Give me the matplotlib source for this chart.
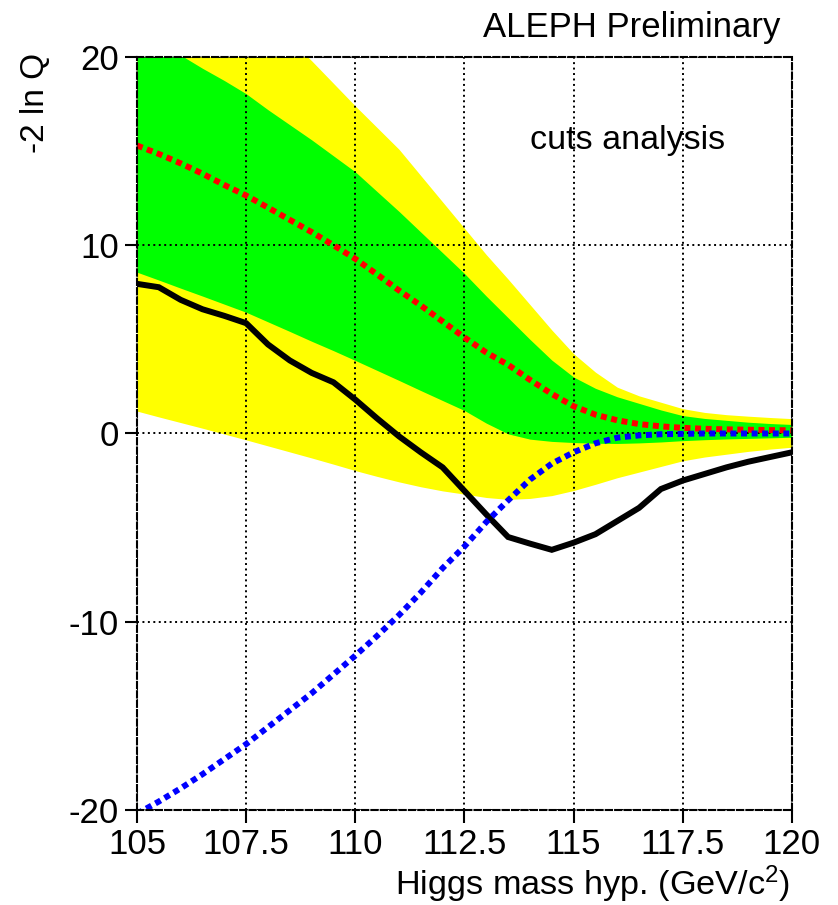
import matplotlib
matplotlib.use("Agg")
import matplotlib.pyplot as plt

plt.rcParams["font.family"] = ["Liberation Sans", "DejaVu Sans"]
plt.rcParams["mathtext.fontset"] = "custom"
plt.rcParams["mathtext.rm"] = "Liberation Sans"
plt.rcParams["mathtext.it"] = "Liberation Sans"
plt.rcParams["axes.unicode_minus"] = False

# Higgs mass hypotheses (GeV/c^2)
mass = [105, 105.5, 106, 106.5, 107, 107.5, 108, 108.5, 109, 109.5,
        110, 110.5, 111, 111.5, 112, 112.5, 113, 113.5, 114, 114.5,
        115, 115.5, 116, 116.5, 117, 117.5, 118, 118.5, 119, 119.5, 120]

# observed -2 ln Q
observed = [7.95, 7.77, 7.1, 6.6, 6.25, 5.86, 4.73, 3.88, 3.22, 2.72,
            1.8, 0.8, -0.15, -1.0, -1.8, -3.05, -4.3, -5.5, -5.85, -6.18,
            -5.8, -5.35, -4.65, -3.95, -2.95, -2.5, -2.15, -1.8, -1.5, -1.25, -1.0]

# expected for signal + background
exp_sb = [15.3, 14.85, 14.35, 13.8, 13.2, 12.64, 12.0, 11.35, 10.7, 10.0,
          9.28, 8.45, 7.6, 6.8, 5.95, 5.1, 4.3, 3.65, 2.85, 2.1,
          1.45, 1.0, 0.7, 0.5, 0.38, 0.3, 0.25, 0.22, 0.2, 0.18, 0.17]

# expected for background only
exp_b = [-20.2, -19.55, -18.85, -18.1, -17.3, -16.5, -15.6, -14.7, -13.8, -12.8,
         -11.8, -10.75, -9.65, -8.45, -7.15, -6.0, -4.7, -3.55, -2.45, -1.6,
         -1.0, -0.52, -0.22, -0.1, -0.04, -0.02, 0.0, 0.0, 0.0, 0.0, 0.0]

# 1 sigma band around signal + background
sig1_hi = [21.5, 20.8, 20.1, 19.4, 18.75, 18.05, 17.2, 16.4, 15.6, 14.75,
           13.9, 12.85, 11.8, 10.7, 9.6, 8.5, 7.3, 6.15, 5.0, 3.9,
           3.0, 2.4, 1.95, 1.6, 1.25, 0.95, 0.8, 0.7, 0.6, 0.53, 0.48]
sig1_lo = [8.57, 8.15, 7.72, 7.3, 6.87, 6.44, 5.93, 5.42, 4.9, 4.4,
           3.88, 3.35, 2.82, 2.28, 1.75, 1.22, 0.55, -0.02, -0.3, -0.42,
           -0.48, -0.52, -0.53, -0.5, -0.45, -0.38, -0.33, -0.29, -0.26, -0.23, -0.2]

# 2 sigma band
sig2_hi = [27.0, 26.2, 25.4, 24.6, 23.8, 22.9, 21.9, 20.9, 19.8, 18.6,
           17.4, 16.25, 15.1, 13.7, 12.3, 10.9, 9.5, 8.2, 6.85, 5.5,
           4.24, 3.26, 2.46, 2.0, 1.66, 1.32, 1.12, 1.0, 0.92, 0.85, 0.79]
sig2_lo = [1.19, 0.88, 0.58, 0.28, -0.03, -0.34, -0.66, -0.98, -1.3, -1.63,
           -1.97, -2.28, -2.57, -2.83, -3.05, -3.22, -3.4, -3.5, -3.45, -3.3,
           -3.03, -2.7, -2.35, -2.05, -1.75, -1.45, -1.25, -1.1, -0.95, -0.83, -0.73]

xticks = [105, 107.5, 110, 112.5, 115, 117.5, 120]
xticklabels = ["105", "107.5", "110", "112.5", "115", "117.5", "120"]
yticks = [-20, -10, 0, 10, 20]
yticklabels = ["-20", "-10", "0", "10", "20"]

fig = plt.figure(figsize=(8.38, 9.05), dpi=100)
ax = fig.add_axes([0.1635, 0.105, 0.7815, 0.832])

ax.fill_between(mass, sig2_lo, sig2_hi, color="#ffff00", lw=0, zorder=1)
ax.fill_between(mass, sig1_lo, sig1_hi, color="#00ff00", lw=0, zorder=1.1)

ax.set_axisbelow(False)
ax.grid(True, color="black", linestyle=(0, (1, 1.8)), linewidth=1.4)

ax.plot(mass, observed, color="black", lw=4.3, solid_joinstyle="miter", zorder=3)
ax.plot(mass, exp_sb, color="#ff0000", lw=4.3, linestyle=(0, (1.0, 0.77)),
        dash_capstyle="butt", zorder=3)
ax.plot(mass, exp_b, color="#0000ff", lw=4.3, linestyle=(0, (1.0, 0.77)),
        dash_capstyle="butt", zorder=3)

ax.set_xlim(105, 120)
ax.set_ylim(-20, 20)
ax.set_xticks(xticks)
ax.set_xticklabels(xticklabels)
ax.set_yticks(yticks)
ax.set_yticklabels(yticklabels)
ax.tick_params(direction="out", length=9, width=1.5, labelsize=25, pad=4)

for sp in ax.spines.values():
    sp.set_linestyle((0, (3, 1.5)))
    sp.set_linewidth(1.5)
    sp.set_zorder(4)

ax.text(628 / 838, 1 - 140 / 905, "cuts analysis", transform=fig.transFigure,
        ha="center", va="center", fontsize=24.5)
fig.text(780 / 838, 1 - 37 / 905, "ALEPH Preliminary", ha="right",
         va="baseline", fontsize=25)
fig.text(35 / 838, 1 - 53 / 905, "-2 ln Q", rotation=90, ha="center",
         va="top", fontsize=24)
fig.text(790 / 838, 1 - 895 / 905, "Higgs mass hyp. (GeV/c$^2$)",
         ha="right", va="baseline", fontsize=24.7)

fig.savefig("out.png", dpi=100)
